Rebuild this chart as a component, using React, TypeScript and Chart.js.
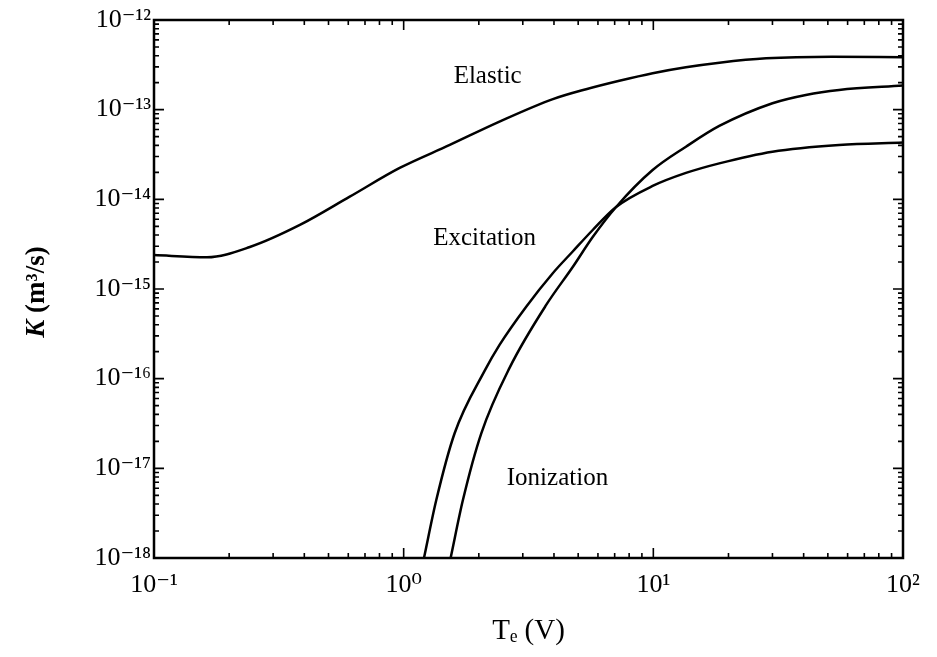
import React, { useEffect, useRef } from 'react';
import { Chart, registerables } from 'chart.js';

Chart.register(...registerables);

// ---- data (Te in V, K in m^3/s) ----
const elasticTe = [0.1, 0.163, 0.242, 0.384, 0.608, 0.964, 1.53, 2.42, 3.96, 5.38, 7.31, 9.94, 13.5, 18.4, 28.3, 52, 100];
const elasticK = [2.39e-15, 2.26e-15, 2.94e-15, 5.18e-15, 1.07e-14, 2.24e-14, 4.04e-14, 7.35e-14, 1.31e-13, 1.69e-13, 2.1e-13, 2.55e-13, 2.97e-13, 3.34e-13, 3.74e-13, 3.9e-13, 3.84e-13];

const excitationTe = [1.206, 1.351, 1.6, 2.109, 2.421, 3.096, 3.956, 4.755, 5.717, 7.094, 9.936, 13.51, 18.37, 30.0, 55.46, 100];
const excitationK = [1e-18, 4.43e-18, 2.46e-17, 1.22e-16, 2.38e-16, 6.35e-16, 1.5e-15, 2.62e-15, 4.55e-15, 8.22e-15, 1.41e-14, 1.97e-14, 2.52e-14, 3.4e-14, 4.04e-14, 4.3e-14];

const ionizationTe = [1.542, 1.727, 2.046, 2.655, 3.723, 4.755, 5.717, 7.094, 9.936, 13.51, 18.37, 30.0, 40.8, 55.46, 100];
const ionizationK = [1e-18, 4.43e-18, 2.46e-17, 1.32e-16, 6.64e-16, 1.76e-15, 3.8e-15, 8.22e-15, 2.12e-14, 3.86e-14, 6.58e-14, 1.18e-13, 1.46e-13, 1.66e-13, 1.86e-13];

const xMajorTicks = [0.1, 1, 10, 100];
const xTickLabels = ['10⁻¹', '10⁰', '10¹', '10²'];
const yMajorTicks = [1e-18, 1e-17, 1e-16, 1e-15, 1e-14, 1e-13, 1e-12];
const yTickLabels = ['10⁻¹⁸', '10⁻¹⁷', '10⁻¹⁶', '10⁻¹⁵', '10⁻¹⁴', '10⁻¹³', '10⁻¹²'];
const minorMultipliers = [2, 3, 4, 5, 6, 7, 8, 9];

const curveLabels = ['Elastic', 'Excitation', 'Ionization'];
const curveLabelTe = [2.17, 2.11, 4.13];
const curveLabelK = [2.37e-13, 3.71e-15, 7.8e-18];

const xTitle = 'Tₑ (V)';
const yTitleItalic = 'K';
const yTitleRest = ' (m³/s)';

const SERIF = "'Liberation Serif', 'DejaVu Serif', 'Times New Roman', serif";

function withMinors(majors: number[]): number[] {
  const out: number[] = [];
  majors.forEach((m, i) => {
    out.push(m);
    if (i < majors.length - 1) minorMultipliers.forEach((k) => out.push(m * k));
  });
  return out;
}

function majorIndex(majors: number[], v: number): number {
  return majors.findIndex((m) => Math.abs(Math.log10(m) - Math.log10(v)) < 1e-6);
}

function toPoints(xs: number[], ys: number[]) {
  return xs.map((x, i) => ({ x, y: ys[i] }));
}

const frameTicksPlugin = {
  id: 'frameTicks',
  afterDatasetsDraw(chart: any) {
    const { ctx, chartArea: a, scales } = chart;
    const xs = scales.x;
    const ys = scales.y;
    ctx.save();
    ctx.strokeStyle = '#000';
    ctx.lineWidth = 1.6;
    ctx.beginPath();
    xs.ticks.forEach((t: any) => {
      const px = xs.getPixelForValue(t.value);
      const len = majorIndex(xMajorTicks, t.value) >= 0 ? 10 : 5;
      ctx.moveTo(px, a.bottom);
      ctx.lineTo(px, a.bottom - len);
      ctx.moveTo(px, a.top);
      ctx.lineTo(px, a.top + len);
    });
    ys.ticks.forEach((t: any) => {
      const py = ys.getPixelForValue(t.value);
      const len = majorIndex(yMajorTicks, t.value) >= 0 ? 10 : 5;
      ctx.moveTo(a.left, py);
      ctx.lineTo(a.left + len, py);
      ctx.moveTo(a.right, py);
      ctx.lineTo(a.right - len, py);
    });
    ctx.stroke();
    ctx.lineWidth = 2.5;
    ctx.strokeRect(a.left, a.top, a.right - a.left, a.bottom - a.top);

    // curve labels
    ctx.fillStyle = '#000';
    ctx.font = `25px ${SERIF}`;
    ctx.textAlign = 'center';
    ctx.textBaseline = 'middle';
    curveLabels.forEach((txt, i) => {
      ctx.fillText(txt, xs.getPixelForValue(curveLabelTe[i]), ys.getPixelForValue(curveLabelK[i]));
    });

    // y-axis title with italic K
    const fItal = `italic bold 27px ${SERIF}`;
    const fBold = `bold 27px ${SERIF}`;
    ctx.font = fItal;
    const w1 = ctx.measureText(yTitleItalic).width;
    ctx.font = fBold;
    const w2 = ctx.measureText(yTitleRest).width;
    ctx.translate(a.left - 117, (a.top + a.bottom) / 2 + 3);
    ctx.rotate(-Math.PI / 2);
    ctx.textAlign = 'left';
    const start = -(w1 + w2) / 2;
    ctx.font = fItal;
    ctx.fillText(yTitleItalic, start, 0);
    ctx.font = fBold;
    ctx.fillText(yTitleRest, start + w1, 0);
    ctx.restore();
  },
};

export default function App() {
  const canvasRef = useRef<HTMLCanvasElement | null>(null);

  useEffect(() => {
    if (!canvasRef.current) return;
    const line = (data: any) => ({
      data,
      borderColor: '#000',
      borderWidth: 2.5,
      pointRadius: 0,
      fill: false,
      cubicInterpolationMode: 'monotone' as const,
    });
    const chart = new Chart(canvasRef.current, {
      type: 'line',
      data: {
        datasets: [
          { label: 'Elastic', ...line(toPoints(elasticTe, elasticK)) },
          { label: 'Excitation', ...line(toPoints(excitationTe, excitationK)) },
          { label: 'Ionization', ...line(toPoints(ionizationTe, ionizationK)) },
        ],
      },
      options: {
        animation: false,
        responsive: true,
        maintainAspectRatio: false,
        layout: { padding: { left: 0, top: 20, right: 34, bottom: 0 } },
        plugins: { legend: { display: false }, tooltip: { enabled: false } },
        scales: {
          x: {
            type: 'logarithmic',
            min: 0.1,
            max: 100,
            grid: { display: false, drawTicks: false },
            border: { display: false },
            afterBuildTicks: (scale: any) => {
              scale.ticks = withMinors(xMajorTicks).map((v) => ({ value: v }));
            },
            afterFit: (scale: any) => {
              scale.height = 99;
            },
            ticks: {
              autoSkip: false,
              maxRotation: 0,
              padding: 12,
              color: '#000',
              font: { family: SERIF, size: 26 },
              callback: (value: any) => {
                const i = majorIndex(xMajorTicks, Number(value));
                return i >= 0 ? xTickLabels[i] : '';
              },
            },
            title: {
              display: true,
              text: xTitle,
              color: '#000',
              font: { family: SERIF, size: 29 },
              padding: { top: 0, bottom: 8 },
            },
          },
          y: {
            type: 'logarithmic',
            min: 1e-18,
            max: 1e-12,
            grid: { display: false, drawTicks: false },
            border: { display: false },
            afterBuildTicks: (scale: any) => {
              scale.ticks = withMinors(yMajorTicks).map((v) => ({ value: v }));
            },
            afterFit: (scale: any) => {
              scale.width = 154;
            },
            ticks: {
              autoSkip: false,
              padding: 3,
              color: '#000',
              font: { family: SERIF, size: 26 },
              callback: (value: any) => {
                const i = majorIndex(yMajorTicks, Number(value));
                return i >= 0 ? yTickLabels[i] : '';
              },
            },
          },
        },
      },
      plugins: [frameTicksPlugin],
    });
    return () => chart.destroy();
  }, []);

  return (
    <div style={{ position: 'fixed', left: 0, top: 0, width: 937, height: 657, background: '#fff' }}>
      <canvas ref={canvasRef} />
    </div>
  );
}
